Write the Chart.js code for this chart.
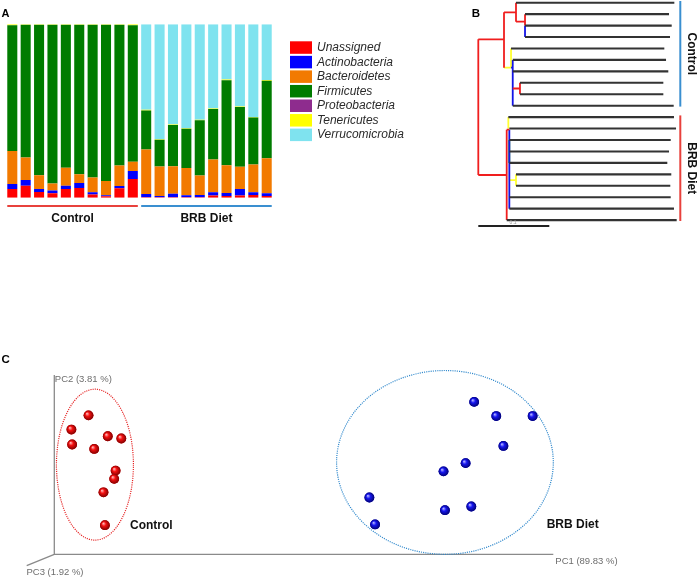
<!DOCTYPE html>
<html><head><meta charset="utf-8">
<script src="https://cdn.jsdelivr.net/npm/chart.js@4.4.1/dist/chart.umd.min.js"></script>
<style>
html,body{margin:0;padding:0;background:#fff;}
#wrap{position:relative;width:700px;height:579px;overflow:hidden;}
canvas{position:absolute;}
</style></head>
<body><div id="wrap">
<canvas id="cA" width="440" height="235" style="left:0;top:0"></canvas>
<canvas id="cB" width="260" height="240" style="left:440px;top:0"></canvas>
<canvas id="cC" width="700" height="239" style="left:0;top:340px"></canvas>
</div>
<script>
// ---------- Panel A data (relative abundance, %) ----------
const samples = ['C1','C2','C3','C4','C5','C6','C7','C8','C9','C10','B1','B2','B3','B4','B5','B6','B7','B8','B9','B10'];
const phyla = ['Unassigned','Actinobacteria','Bacteroidetes','Firmicutes','Proteobacteria','Tenericutes','Verrucomicrobia'];
const unassigned      = [5,6.9,3.3,2.5,5,5.6,1.9,0.8,5.4,10.8, 0.3,0.2,0.2,0.2,0.2,1.2,1,1.3,1.5,1];
const actinobacteria  = [2.9,3.3,1.7,1.7,1.9,2.9,1.2,0.6,1.3,4.6, 1.9,0.8,2.1,1.2,1.3,1.9,1.7,3.7,1.7,1.5];
const bacteroidetes   = [19,13,8,4,10.4,5,8.5,8.3,11.9,5.4, 25.6,17,15.8,15.8,11.3,19,16,12.9,16,20.2];
const firmicutes      = [72.6,76.6,86.8,91.6,82.5,86.3,88.2,90.1,81.2,78.7, 22.5,15.4,23.8,22.5,31.9,29,49,34.4,27.1,44.8];
const proteobacteria  = [0,0,0,0,0,0,0,0,0,0, 0,0,0,0,0,0,0,0,0,0];
const tenericutes     = [0.5,0.2,0.2,0.2,0.2,0.2,0.2,0.2,0.2,0.5, 0.4,0.3,0.3,0.3,0.3,0.3,0.4,0.3,0.3,0.4];
const verrucomicrobia = [0,0,0,0,0,0,0,0,0,0, 49.3,66.3,57.8,60,55,48.6,31.9,47.4,53.4,32.1];
const groupNames = ['Control','BRB Diet'];
const groupFirst = [0,10];
const groupLast  = [9,19];

// ---------- Panel B data (dendrogram; x = distance, y = leaf index) ----------
const leafStart = [0.0531,0.0658,0.0658,0.0658,0.0461,0.0485,0.0485,0.0587,0.0587,0.0485,
                   0.0423,0.0437,0.0437,0.0437,0.0437,0.0531,0.0531,0.0437,0.0437,0.0400];
const leafEnd   = [0.2761,0.2686,0.2724,0.2700,0.2620,0.2644,0.2676,0.2606,0.2606,0.2752,
                   0.2756,0.2785,0.2710,0.2686,0.2662,0.2718,0.2704,0.2710,0.2756,0.2794];
const redBranches = [[0,3.2,0,15.06],[0,3.2,0.0362,3.2],[0,15.06,0.0400,15.06],
                     [0.0362,0.84,0.0362,5.68],[0.0362,0.84,0.0531,0.84],[0.0531,0,0.0531,1.66],
                     [0.0531,1.66,0.0658,1.66],[0.0658,1,0.0658,2],
                     [0.0485,7.5,0.0587,7.5],[0.0587,7,0.0587,8],
                     [0.0400,11.1,0.0400,19],[0.0400,11.1,0.0437,11.1]];
const blueBranches = [[0.0658,2,0.0658,3],[0.0461,5.68,0.0485,5.68],[0.0485,5,0.0485,9],
                      [0.0437,11.1,0.0437,18]];
const yellowBranches = [[0.0362,5.68,0.0461,5.68],[0.0461,4,0.0461,5.68],
                        [0.0423,10,0.0423,11],[0.0437,15.5,0.0531,15.5],[0.0531,15,0.0531,16]];
const greenBranches = [[0.0437,12,0.0437,14]];
const scaleBar = [0, 0.1];
const cladeNames = ['Control','BRB Diet'];
const cladeFirst = [0,10];
const cladeLast  = [9,19];

// ---------- Panel C data (PCoA scores) ----------
const controlPC1 = [-0.252,-0.276,-0.275,-0.225,-0.206,-0.244,-0.214,-0.216,-0.231,-0.229];
const controlPC2 = [0.066,0.047,0.027,0.038,0.035,0.021,-0.008,-0.019,-0.037,-0.081];
const brbPC1 = [0.289,0.320,0.371,0.330,0.277,0.246,0.142,0.285,0.248,0.150];
const brbPC2 = [0.084,0.065,0.065,0.025,0.002,-0.009,-0.044,-0.056,-0.061,-0.080];
const axisTitles = ['PC1 (89.83 %)','PC2 (3.81 %)','PC3 (1.92 %)'];
// group ellipses: [centerPC1, centerPC2, radiusPC1, radiusPC2]
const controlEllipse = [-0.243, 0.000, 0.054, 0.101];
const brbEllipse = [0.248, 0.003, 0.152, 0.123];

const FONT = '"Liberation Sans", Arial, Helvetica, sans-serif';
Chart.defaults.font.family = FONT;
Chart.defaults.animation = false;
Chart.defaults.responsive = false;
Chart.defaults.devicePixelRatio = 1;
Chart.defaults.plugins.legend.display = false;
Chart.defaults.plugins.tooltip.enabled = false;

const RED = '#E8413C', BLUE = '#3A8FD0';

// ================= Panel A =================
const phylumColors = ['#FF0000','#0000FF','#F27A00','#007C00','#8E2C8E','#FFFF00','#7FE3EF'];
const series = [unassigned,actinobacteria,bacteroidetes,firmicutes,proteobacteria,tenericutes,verrucomicrobia];
new Chart(document.getElementById('cA'), {
  type: 'bar',
  data: {
    labels: samples,
    datasets: phyla.map((p,i)=>({label:p, data:series[i], backgroundColor:phylumColors[i], borderWidth:0,
      barPercentage:0.75, categoryPercentage:1}))
  },
  options: {
    layout:{padding:{left:5.6,right:166.6,top:24.3,bottom:37.3}},
    scales:{
      x:{stacked:true, display:false},
      y:{stacked:true, display:false, min:0, max:100}
    }
  },
  plugins:[{
    id:'decoA',
    afterDraw(chart){
      const c = chart.ctx, xs = chart.scales.x;
      const bw = (xs.getPixelForValue(1)-xs.getPixelForValue(0))*0.75;
      const cols = [RED, BLUE];
      c.save();
      groupNames.forEach((g,i)=>{
        const x1 = xs.getPixelForValue(groupFirst[i]) - bw/2;
        const x2 = xs.getPixelForValue(groupLast[i]) + bw/2;
        c.strokeStyle = cols[i]; c.lineWidth = 2;
        c.beginPath(); c.moveTo(x1,206); c.lineTo(x2,206); c.stroke();
        c.fillStyle = '#111'; c.font = 'bold 12px '+FONT;
        c.textAlign='center'; c.textBaseline='middle';
        c.fillText(g,(x1+x2)/2,218.5);
      });
      c.fillStyle='#000'; c.font='bold 11px '+FONT; c.textAlign='left'; c.textBaseline='alphabetic';
      c.fillText('A',1.5,17.3);
      chart.data.datasets.forEach((d,i)=>{
        const cy = 47.3 + i*14.55;
        c.fillStyle = d.backgroundColor;
        c.fillRect(290, cy-6, 22, 12.5);
        c.fillStyle = '#2a2a2a'; c.font = 'italic 12px '+FONT;
        c.textBaseline='middle'; c.textAlign='left';
        c.fillText(d.label, 317, cy+0.5);
      });
      c.restore();
    }
  }]
});

// ================= Panel B =================
function segData(segs){
  const out=[];
  segs.forEach(s=>{ out.push({x:s[0],y:s[1]},{x:s[2],y:s[3]},{x:s[2],y:null}); });
  return out;
}
const leafData=[];
leafStart.forEach((s,i)=>{ leafData.push({x:s,y:i},{x:leafEnd[i],y:i},{x:leafEnd[i],y:null}); });
function lineDs(data,color,w){
  return {type:'line',data,borderColor:color,borderWidth:w,pointRadius:0,showLine:true,spanGaps:false,clip:false,borderCapStyle:'butt',tension:0};
}
new Chart(document.getElementById('cB'), {
  type:'scatter',
  data:{datasets:[
    lineDs(leafData,'#333333',2.1),
    lineDs(segData(redBranches),'#F01E1E',1.8),
    lineDs(segData(blueBranches),'#1414E6',1.8),
    lineDs(segData(yellowBranches),'#FFFF30',1.8),
    lineDs(segData(greenBranches),'#0A8A0A',1.8),
    lineDs([{x:scaleBar[0],y:19.52},{x:scaleBar[1],y:19.52}],'#222',2)
  ]},
  options:{
    layout:{padding:{left:38.3,right:19.7,top:2.7,bottom:19.9}},
    scales:{
      x:{type:'linear',display:false,min:0,max:0.2845},
      y:{type:'linear',display:false,min:0,max:19,reverse:true}
    }
  },
  plugins:[{
    id:'decoB',
    afterDraw(chart){
      const c=chart.ctx, ys=chart.scales.y, xs=chart.scales.x;
      const xr = chart.chartArea.right;
      const cols=[BLUE,RED];
      c.save();
      cladeNames.forEach((g,i)=>{
        const y1 = ys.getPixelForValue(cladeFirst[i]-0.15);
        const y2 = ys.getPixelForValue(cladeLast[i]+0.08);
        c.strokeStyle=cols[i]; c.lineWidth=2;
        c.beginPath(); c.moveTo(xr,y1); c.lineTo(xr,y2); c.stroke();
        c.save();
        c.translate(xr+11,(y1+y2)/2);
        c.rotate(Math.PI/2);
        c.fillStyle='#111'; c.font='bold 12px '+FONT; c.textAlign='center'; c.textBaseline='middle';
        c.fillText(g,0,0);
        c.restore();
      });
      c.fillStyle='#999'; c.font='5px '+FONT; c.textAlign='center'; c.textBaseline='alphabetic';
      c.fillText(String(scaleBar[1]), xs.getPixelForValue(0.049), ys.getPixelForValue(19.35));
      c.fillStyle='#000'; c.font='bold 11.5px '+FONT; c.textAlign='left';
      c.fillText('B',31.8,17.3);
      c.restore();
    }
  }]
});

// ================= Panel C =================
const sphereShades = [['#ffb4b4','#f41010','#760000'],['#b0b0ff','#1616f0','#00006a']];
new Chart(document.getElementById('cC'), {
  type:'scatter',
  data:{datasets:[
    {label:'Control',data:controlPC1.map((v,i)=>({x:v,y:controlPC2[i]})),
     backgroundColor:'#e00000',borderWidth:0,pointRadius:4.9,clip:false},
    {label:'BRB Diet',data:brbPC1.map((v,i)=>({x:v,y:brbPC2[i]})),
     backgroundColor:'#0000d0',borderWidth:0,pointRadius:4.9,clip:false}
  ]},
  options:{
    layout:{padding:{left:54.3,right:146.7,top:35,bottom:24.7}},
    scales:{
      x:{type:'linear',display:false,min:-0.3,max:0.4},
      y:{type:'linear',display:false,min:-0.12,max:0.12}
    }
  },
  plugins:[{
    id:'decoC',
    beforeDatasetsDraw(chart){
      const c=chart.ctx, a=chart.chartArea, xs=chart.scales.x, ys=chart.scales.y;
      c.save();
      c.strokeStyle='#8a8a8a'; c.lineWidth=1.3;
      c.beginPath();
      c.moveTo(a.left,a.top); c.lineTo(a.left,a.bottom); c.lineTo(a.right,a.bottom);
      c.moveTo(a.left,a.bottom); c.lineTo(a.left-27.6,a.bottom+11.4);
      c.stroke();
      c.fillStyle='#6e6e6e'; c.font='9.5px '+FONT; c.textBaseline='middle'; c.textAlign='left';
      c.fillText(axisTitles[1], a.left+0.5, a.top+4.5);
      c.fillText(axisTitles[0], a.right+2, a.bottom+7);
      c.fillText(axisTitles[2], a.left-27.8, a.bottom+18);
      [[controlEllipse,'#E52222'],[brbEllipse,'#2F88CC']].forEach(([e,col])=>{
        const cx=xs.getPixelForValue(e[0]), cy=ys.getPixelForValue(e[1]);
        const rx=Math.abs(xs.getPixelForValue(e[0]+e[2])-cx), ry=Math.abs(ys.getPixelForValue(e[1]+e[3])-cy);
        c.strokeStyle=col; c.lineWidth=1.2; c.setLineDash([1.1,1.1]);
        c.beginPath(); c.ellipse(cx,cy,rx,ry,0,0,Math.PI*2); c.stroke();
      });
      c.setLineDash([]);
      c.fillStyle='#111'; c.font='bold 12px '+FONT; c.textAlign='left'; c.textBaseline='middle';
      c.fillText('Control', 130, 185.3);
      c.fillText('BRB Diet', 546.7, 185);
      c.fillStyle='#000'; c.font='bold 11.5px '+FONT; c.textBaseline='alphabetic';
      c.fillText('C',1.5,22.7);
      c.restore();
    },
    afterDatasetsDraw(chart){
      const c=chart.ctx;
      c.save();
      chart.data.datasets.forEach((d,di)=>{
        const sh=sphereShades[di];
        chart.getDatasetMeta(di).data.forEach(el=>{
          const px=el.x, py=el.y, r=el.options.radius;
          if(!isFinite(px)||!isFinite(py)) return;
          const g=c.createRadialGradient(px-1.6,py-1.8,0.3,px,py,r+0.3);
          g.addColorStop(0,sh[0]); g.addColorStop(0.38,sh[1]); g.addColorStop(1,sh[2]);
          c.fillStyle=g;
          c.beginPath(); c.arc(px,py,r,0,Math.PI*2); c.fill();
        });
      });
      c.restore();
    }
  }]
});
</script>
</body></html>
